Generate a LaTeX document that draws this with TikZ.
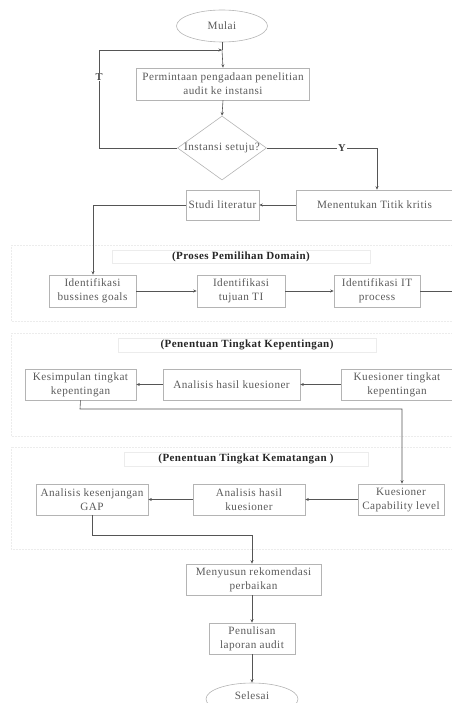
\documentclass[tikz,border=0pt]{standalone}
\usepackage{fontspec}
\setmainfont{Liberation Serif}[LetterSpace=4]
\usetikzlibrary{shapes.geometric,arrows.meta}
\definecolor{txt}{HTML}{5A5A5A}
\definecolor{bord}{HTML}{B4B4B4}
\definecolor{conn}{HTML}{555555}
\definecolor{panel}{HTML}{ECECEC}
\tikzset{
  box/.style={draw=bord, line width=0.6pt, rectangle, text=txt, align=center, inner sep=0pt,
    font=\fontsize{11.2}{14}\selectfont},
  oval/.style={draw=bord, line width=0.6pt, ellipse, text=txt, inner sep=0pt,
    font=\fontsize{11.2}{14}\selectfont},
  dia/.style={draw=bord, line width=0.6pt, diamond, text=txt, inner sep=0pt, aspect=1.4},
  conn/.style={draw=conn, line width=0.6pt},
  arr/.style={conn, -{Stealth[length=3.5pt,width=3pt]}},
  panelbox/.style={draw=panel, line width=0.5pt, densely dotted},
  titlebox/.style={draw=panel, line width=0.5pt, rectangle, inner sep=0pt,
    font=\bfseries\fontsize{11}{13}\selectfont, text=black!85},
  lab/.style={font=\bfseries\fontsize{10.5}{12}\selectfont, text=black!75, fill=white, inner sep=1pt}
}
\begin{document}
\begin{tikzpicture}[x=1pt,y=-1pt]
\useasboundingbox (0,0) rectangle (451,703);
% panels
\draw[panelbox] (11,245) rectangle (455,321);
\draw[panelbox] (11,333) rectangle (455,436);
\draw[panelbox] (11,447) rectangle (455,549);
\node[titlebox, minimum width=258pt, minimum height=13pt] (t1) at (241,256.5) {(Proses Pemilihan Domain)};
\node[titlebox, minimum width=258pt, minimum height=14pt] (t2) at (247,345) {(Penentuan Tingkat Kepentingan)};
\node[titlebox, minimum width=244pt, minimum height=14pt] (t3) at (246,459) {(Penentuan Tingkat Kematangan )};

% top part
\node[oval, minimum width=91pt, minimum height=32pt] (mulai) at (222,26) {Mulai};
\node[box, minimum width=173pt, minimum height=32pt] (minta) at (223,84) {Permintaan pengadaan penelitian\\audit ke instansi};
\node[dia, minimum width=89pt, minimum height=64pt] (setuju) at (222,148) {};
\node[text=txt, font=\fontsize{11.2}{14}\selectfont, inner sep=0pt] (setujut) at (222,148) {Instansi setuju?};
\node[box, minimum width=73pt, minimum height=30pt] (studi) at (222.5,205) {Studi literatur};
\node[box, minimum width=157pt, minimum height=30pt] (titik) at (374.5,205) {Menentukan Titik kritis};
\coordinate (top) at (222,50);

\draw[conn] (mulai.south) -- (top);
\draw[arr] (top) -- (minta.north);
\draw[arr] (minta.south) -- (setuju.north);
\draw[arr] (setuju.west) -- (99,148) -- (99,50) -- (top);
\node[lab] (T) at (99,77) {T};
\draw[arr] (setuju.east) -- (377,148) -- (titik.north -| 377,0);
\node[lab] (Y) at (342,148) {Y};
\draw[arr] (titik.west) -- (studi.east);

% panel 1
\node[box, minimum width=87pt, minimum height=32pt] (bg) at (92.5,291) {Identifikasi\\bussines goals};
\node[box, minimum width=88pt, minimum height=32pt] (ttl) at (241,291) {Identifikasi\\tujuan TI};
\node[box, minimum width=86pt, minimum height=32pt] (itp) at (377,291) {Identifikasi IT\\process};
\coordinate (itpend) at (452,291);
\draw[arr] (studi.west) -- (93,205) -- (bg.north -| 93,0);
\draw[arr] (bg.east) -- (ttl.west);
\draw[arr] (ttl.east) -- (itp.west);
\draw[conn] (itp.east) -- (itpend);

% panel 2
\node[box, minimum width=111pt, minimum height=31pt] (kes) at (80.5,384.5) {Kesimpulan tingkat\\kepentingan};
\node[box, minimum width=137pt, minimum height=31pt] (ahk) at (231.5,384.5) {Analisis hasil kuesioner};
\node[box, minimum width=112pt, minimum height=31pt] (ktk) at (397,384.5) {Kuesioner tingkat\\kepentingan};
\draw[arr] (ktk.west) -- (ahk.east);
\draw[arr] (ahk.west) -- (kes.east);

% panel 3
\node[box, minimum width=112pt, minimum height=31pt] (gap) at (92,499.5) {Analisis kesenjangan\\GAP};
\node[box, minimum width=112pt, minimum height=31pt] (ahk2) at (249,499.5) {Analisis hasil\\kuesioner};
\node[box, minimum width=86pt, minimum height=31pt] (kcl) at (401,499.5) {Kuesioner\\Capability level};
\draw[arr] (kes.south) -- (80,409) -- (402,409) -- (kcl.north -| 402,0);
\draw[arr] (kcl.west) -- (ahk2.east);
\draw[arr] (ahk2.west) -- (gap.east);

% bottom
\node[box, minimum width=135pt, minimum height=31pt] (rek) at (253.5,579.5) {Menyusun rekomendasi\\perbaikan};
\node[box, minimum width=86pt, minimum height=31pt] (lap) at (252,638.5) {Penulisan\\laporan audit};
\node[oval, minimum width=92pt, minimum height=32pt] (sel) at (252,699) {};
\node[text=txt, font=\fontsize{11.2}{14}\selectfont, inner sep=0pt] (selt) at (252,696) {Selesai};
\draw[arr] (gap.south) -- (92,535) -- (252,535) -- (rek.north -| 252,0);
\draw[arr] (rek.south -| 252,0) -- (lap.north);
\draw[arr] (lap.south) -- (sel.north);
\end{tikzpicture}
\end{document}
